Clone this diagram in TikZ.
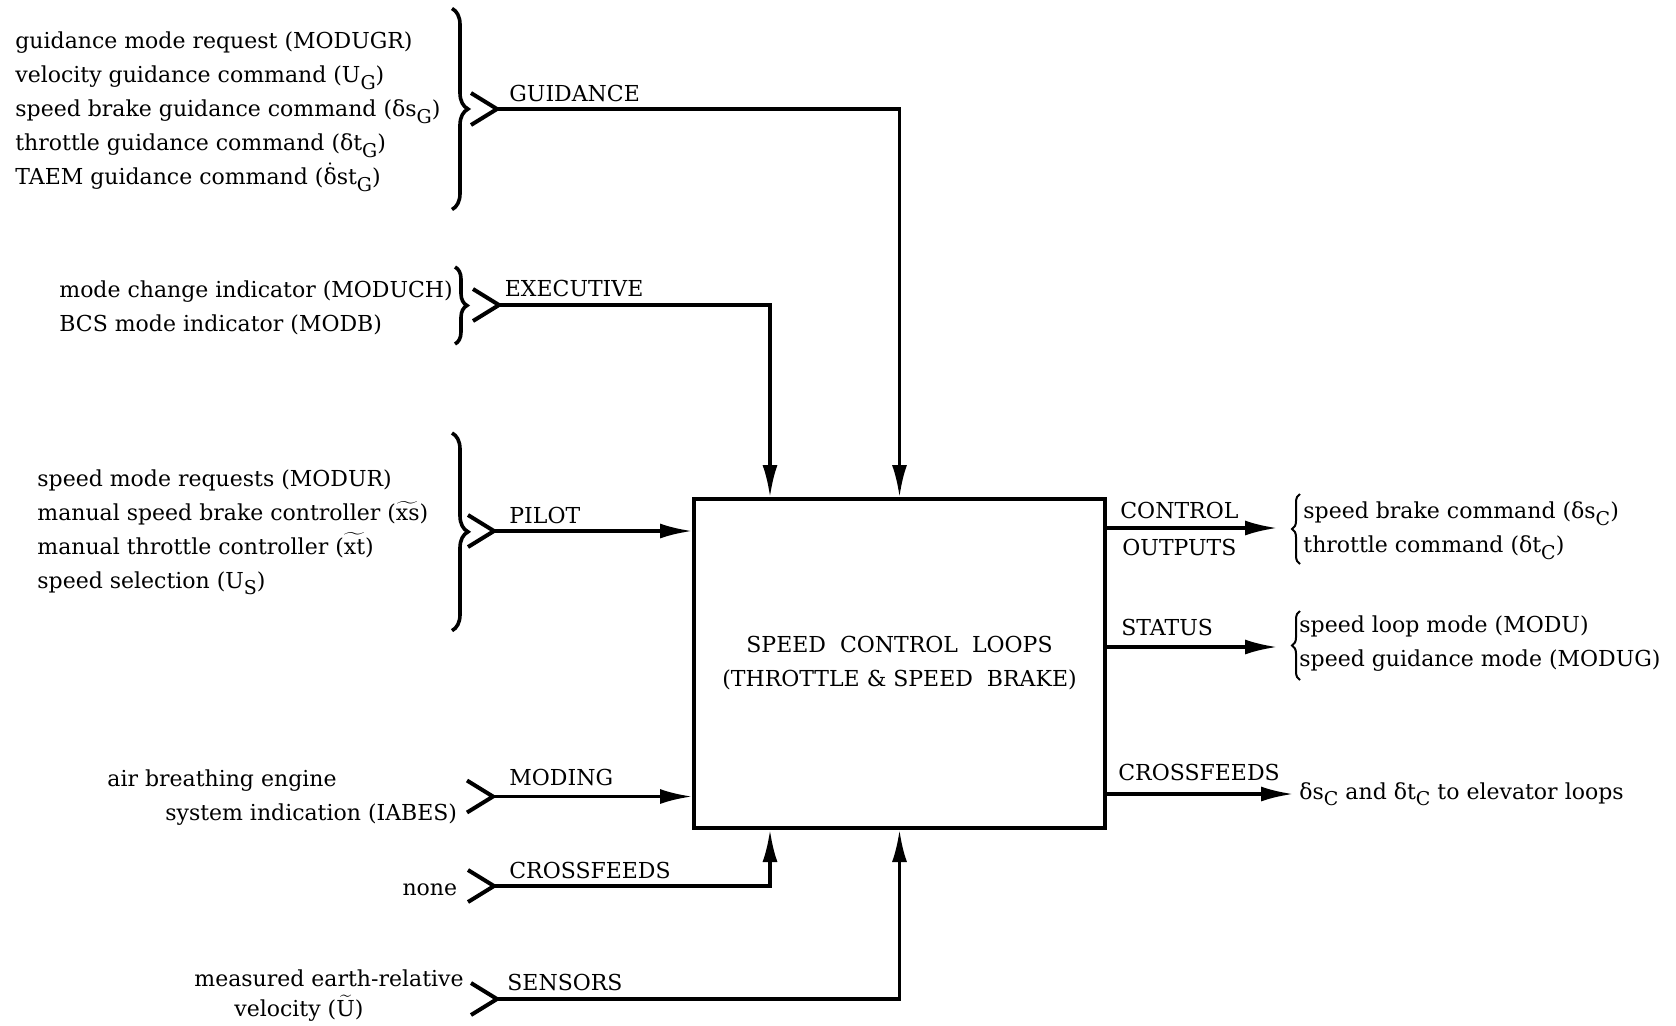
\documentclass[tikz,border=0pt]{standalone}
\usepackage{fontspec}
\setmainfont{DejaVu Serif}
\usetikzlibrary{arrows.meta,positioning,calc,decorations.pathreplacing}
\newcommand{\lowsub}[1]{\smash{\raisebox{-0.6ex}{\fontsize{9.5}{10}\selectfont #1}}}
\newcommand{\wtil}[1]{\smash{\ensuremath{\widetilde{\mbox{#1}}}}}
\newcommand{\dotd}{\smash{\ensuremath{\dot{\mbox{δ}}}}}

\begin{document}
\begin{tikzpicture}[x=50pt, y=50pt,
  lab/.style={font=\fontsize{11}{17}\selectfont, inner sep=0pt},
  inlist/.style={lab, align=left, anchor=west},
  loopbox/.style={rectangle, draw, line width=2pt, minimum width=205.5pt, minimum height=164.5pt, lab, align=center},
  arr/.style={line width=1.6pt, -{Latex[length=16pt,width=7.5pt]}},
  chev/.style={line width=2pt},
  bigbrace/.style={decorate, decoration={brace, amplitude=8pt}, line width=1.8pt},
  smallbrace/.style={decorate, decoration={brace, amplitude=4pt}, line width=1pt}]
  \path[use as bounding box, fill=white] (0,0) rectangle (16.76,-10.25);
  % block
  \node[loopbox] (loops) at (8.995,-6.635) {SPEED\ \ CONTROL\ \ LOOPS\\(THROTTLE \& SPEED\ \ BRAKE)};
  % inputs
  \node[inlist] (gdtxt) at (0.15,-1.11) {guidance mode request (MODUGR)\\
    velocity guidance command (U\lowsub{G})\\
    speed brake guidance command (δs\lowsub{G})\\
    throttle guidance command (δt\lowsub{G})\\
    TAEM guidance command (\dotd st\lowsub{G})};
  \node[inlist] (extxt) at (0.59,-3.08) {mode change indicator (MODUCH)\\BCS mode indicator (MODB)};
  \node[inlist] (pltxt) at (0.37,-5.31) {speed mode requests (MODUR)\\
    manual speed brake controller (\wtil{xs})\\
    manual throttle controller (\wtil{xt})\\
    speed selection (U\lowsub{S})};
  \node[lab, anchor=west] (mdtxta) at (1.07,-7.81) {air breathing engine};
  \node[lab, anchor=east] (mdtxtb) at (4.575,-8.15) {system indication (IABES)};
  \node[lab, anchor=east] (cftxt) at (4.575,-8.90) {none};
  \node[lab, anchor=east] (sntxta) at (4.64,-9.78) {measured earth-relative};
  \node[lab, anchor=west] (sntxtb) at (2.34,-10.11) {velocity (\wtil{U})};
  \draw[bigbrace] (4.52,-0.085) -- (4.52,-2.095);
  \draw[bigbrace, decoration={amplitude=6pt}] (4.55,-2.67) -- (4.55,-3.44);
  \draw[bigbrace] (4.52,-4.33) -- (4.52,-6.306);
  \coordinate (gch) at (4.97,-1.09);
  \coordinate (ech) at (4.99,-3.05);
  \coordinate (pch) at (4.94,-5.31);
  \coordinate (mch) at (4.93,-7.965);
  \coordinate (cch) at (4.94,-8.86);
  \coordinate (sch) at (4.97,-9.99);
  \foreach \c in {gch,ech,pch,mch,cch,sch} {
    \draw[chev] ([shift={(-0.26,0.16)}]\c) -- (\c) -- ([shift={(-0.26,-0.16)}]\c);
  }
  \node[lab, anchor=west] (gd) at (5.09,-0.93) {GUIDANCE};
  \node[lab, anchor=west] (ex) at (5.045,-2.886) {EXECUTIVE};
  \node[lab, anchor=west] (pl) at (5.09,-5.15) {PILOT};
  \node[lab, anchor=west] (md) at (5.09,-7.77) {MODING};
  \node[lab, anchor=west] (cf) at (5.09,-8.70) {CROSSFEEDS};
  \node[lab, anchor=west] (sn) at (5.07,-9.82) {SENSORS};
  \draw[arr] (gch) -| (loops.north);
  \draw[arr] (ech) -| ($(loops.north west)+(0.78,0)$);
  \draw[arr] (pch) -- (pch -| loops.west);
  \draw[arr] (mch) -- (mch -| loops.west);
  \draw[arr] (cch) -| ($(loops.south west)+(0.78,0)$);
  \draw[arr] (sch) -| (loops.south);
  % outputs
  \coordinate (coend) at (12.77,-5.28);
  \coordinate (stend) at (12.77,-6.47);
  \coordinate (cxend) at (12.93,-7.94);
  \draw[arr] (coend -| loops.east) -- (coend);
  \draw[arr] (stend -| loops.east) -- (stend);
  \draw[arr] (cxend -| loops.east) -- (cxend);
  \node[lab, anchor=west] (co) at (11.20,-5.10) {CONTROL};
  \node[lab, anchor=west] (cou) at (11.22,-5.47) {OUTPUTS};
  \node[lab, anchor=west] (st) at (11.21,-6.27) {STATUS};
  \node[lab, anchor=west] (cx) at (11.18,-7.72) {CROSSFEEDS};
  \draw[smallbrace] (13.00,-5.64) -- (13.00,-4.94);
  \draw[smallbrace] (13.00,-6.80) -- (13.00,-6.11);
  \node[inlist] (cotxt) at (13.03,-5.29) {speed brake command (δs\lowsub{C})\\throttle command (δt\lowsub{C})};
  \node[inlist] (sttxt) at (12.99,-6.435) {speed loop mode (MODU)\\speed guidance mode (MODUG)};
  \node[lab, anchor=west] (cxtxt) at (12.99,-7.93) {δs\lowsub{C} and δt\lowsub{C} to elevator loops};
\end{tikzpicture}
\end{document}
